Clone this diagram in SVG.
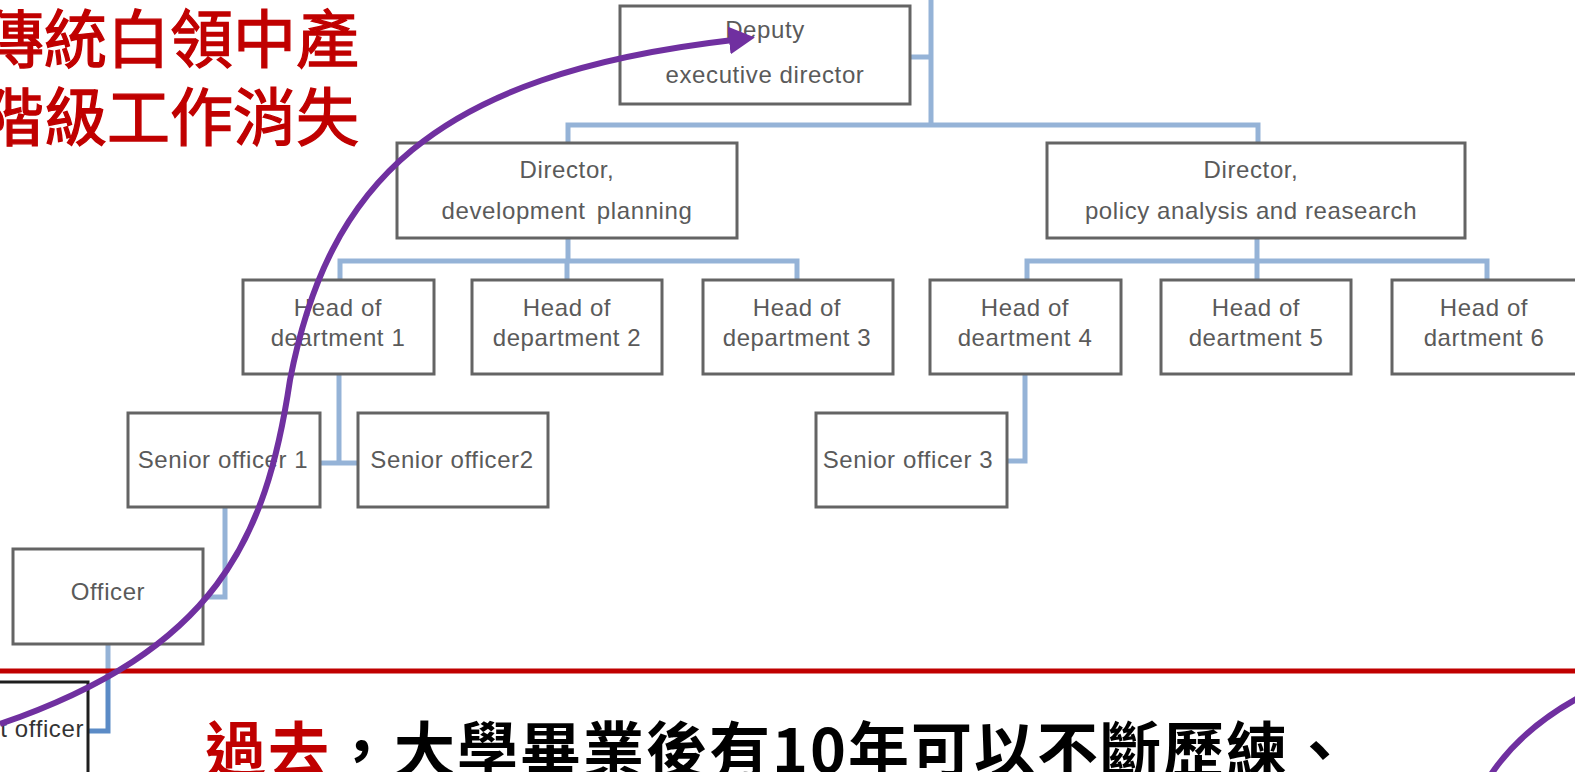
<svg xmlns="http://www.w3.org/2000/svg" width="1575" height="772" viewBox="0 0 1575 772">
<style>
.box{fill:#fff;stroke:#646464;stroke-width:3}
.box2{fill:#fff;stroke:#1e1e1e;stroke-width:3}
.lbl{font-family:"Liberation Sans",Arial,sans-serif;font-size:24px;letter-spacing:0.6px;fill:#5a5a5a;text-anchor:middle}
.conn{fill:none;stroke:#95b3d7;stroke-width:5}
.conn2{fill:none;stroke:#5b8bc6;stroke-width:5}
.red{font-family:"Noto Sans CJK TC","Noto Sans CJK SC",sans-serif;fill:#c00000}
.blk{font-family:"Noto Sans CJK TC","Noto Sans CJK SC",sans-serif;font-weight:700;fill:#000}
.arc{fill:none;stroke:#7030a0;stroke-width:6}
</style>
<defs>
<marker id="ah" markerUnits="userSpaceOnUse" markerWidth="28" markerHeight="28" viewBox="0 0 28 28" refX="4" refY="14" orient="auto">
<path d="M0,0 L26,14 L0,28 z" fill="#7030a0"/>
</marker>
</defs>
<rect width="1575" height="772" fill="#fff"/>
<g id="connectors">
<path class="conn" d="M931,0 V125 M910,57 H931 M568,143 V125 H1258 V143"/>
<path class="conn" d="M568,238 V261 M340,280 V261 H797 V280 M567,261 V280"/>
<path class="conn" d="M1257,238 V261 M1027,280 V261 H1487 V280 M1257,261 V280"/>
<path class="conn" d="M339,374 V463 M320,463 H358"/>
<path class="conn" d="M1025,374 V461 H1007"/>
<path class="conn" d="M225,507 V597 H204"/>
<path class="conn" d="M108,644 V671"/>
<path class="conn2" d="M108,671 V731 H88"/>
</g>
<g id="deputy"><rect class="box" x="620" y="6" width="290" height="98"/><text class="lbl" x="765" y="38">Deputy</text><text class="lbl" x="765" y="83">executive director</text></g>
<g id="dir1"><rect class="box" x="397" y="143" width="340" height="95"/><text class="lbl" x="567" y="178">Director,</text><text class="lbl" x="567" y="219" word-spacing="4">development planning</text></g>
<g id="dir2"><rect class="box" x="1047" y="143" width="418" height="95"/><text class="lbl" x="1251" y="178">Director,</text><text class="lbl" x="1251" y="219">policy analysis and reasearch</text></g>
<g id="head1"><rect class="box" x="243" y="280" width="191" height="94"/><text class="lbl" x="338" y="316">Head of</text><text class="lbl" x="338" y="346">deartment 1</text></g>
<g id="head2"><rect class="box" x="472" y="280" width="190" height="94"/><text class="lbl" x="567" y="316">Head of</text><text class="lbl" x="567" y="346">department 2</text></g>
<g id="head3"><rect class="box" x="703" y="280" width="190" height="94"/><text class="lbl" x="797" y="316">Head of</text><text class="lbl" x="797" y="346">department 3</text></g>
<g id="head4"><rect class="box" x="930" y="280" width="191" height="94"/><text class="lbl" x="1025" y="316">Head of</text><text class="lbl" x="1025" y="346">deartment 4</text></g>
<g id="head5"><rect class="box" x="1161" y="280" width="190" height="94"/><text class="lbl" x="1256" y="316">Head of</text><text class="lbl" x="1256" y="346">deartment 5</text></g>
<g id="head6"><rect class="box" x="1392" y="280" width="191" height="94"/><text class="lbl" x="1484" y="316">Head of</text><text class="lbl" x="1484" y="346">dartment 6</text></g>
<g id="senior1"><rect class="box" x="128" y="413" width="192" height="94"/><text class="lbl" x="223" y="468">Senior officer 1</text></g>
<g id="senior2"><rect class="box" x="358" y="413" width="190" height="94"/><text class="lbl" x="452" y="468">Senior officer2</text></g>
<g id="senior3"><rect class="box" x="816" y="413" width="191" height="94"/><text class="lbl" x="908" y="468">Senior officer 3</text></g>
<g id="officer"><rect class="box" x="13" y="549" width="190" height="95"/><text class="lbl" x="108" y="600">Officer</text></g>
<g id="assistant"><rect class="box2" x="-20" y="682" width="108" height="100"/><text class="lbl" x="84" y="737" style="text-anchor:end;fill:#333">t officer</text></g>
<line x1="0" y1="671" x2="1575" y2="671" stroke="#c00000" stroke-width="5"/>
<g id="arrows">
<path class="arc" d="M0,724 C215,650 266,541 290,380 C328,185 430,75 733,40" marker-end="url(#ah)"/>
<path class="arc" d="M1490,776 Q1520,730 1578,698"/>
</g>
<text class="red" x="-19" y="62" font-size="63" stroke="#c00000" stroke-width="1.3">傳統白領中產</text>
<text class="red" x="-19" y="140" font-size="63" stroke="#c00000" stroke-width="1.3">階級工作消失</text>
<text x="205" y="773" font-size="61" letter-spacing="2"><tspan class="red" font-weight="700">過去</tspan><tspan class="blk">，大學畢業後有10年可以不斷歷練、</tspan></text>
</svg>
